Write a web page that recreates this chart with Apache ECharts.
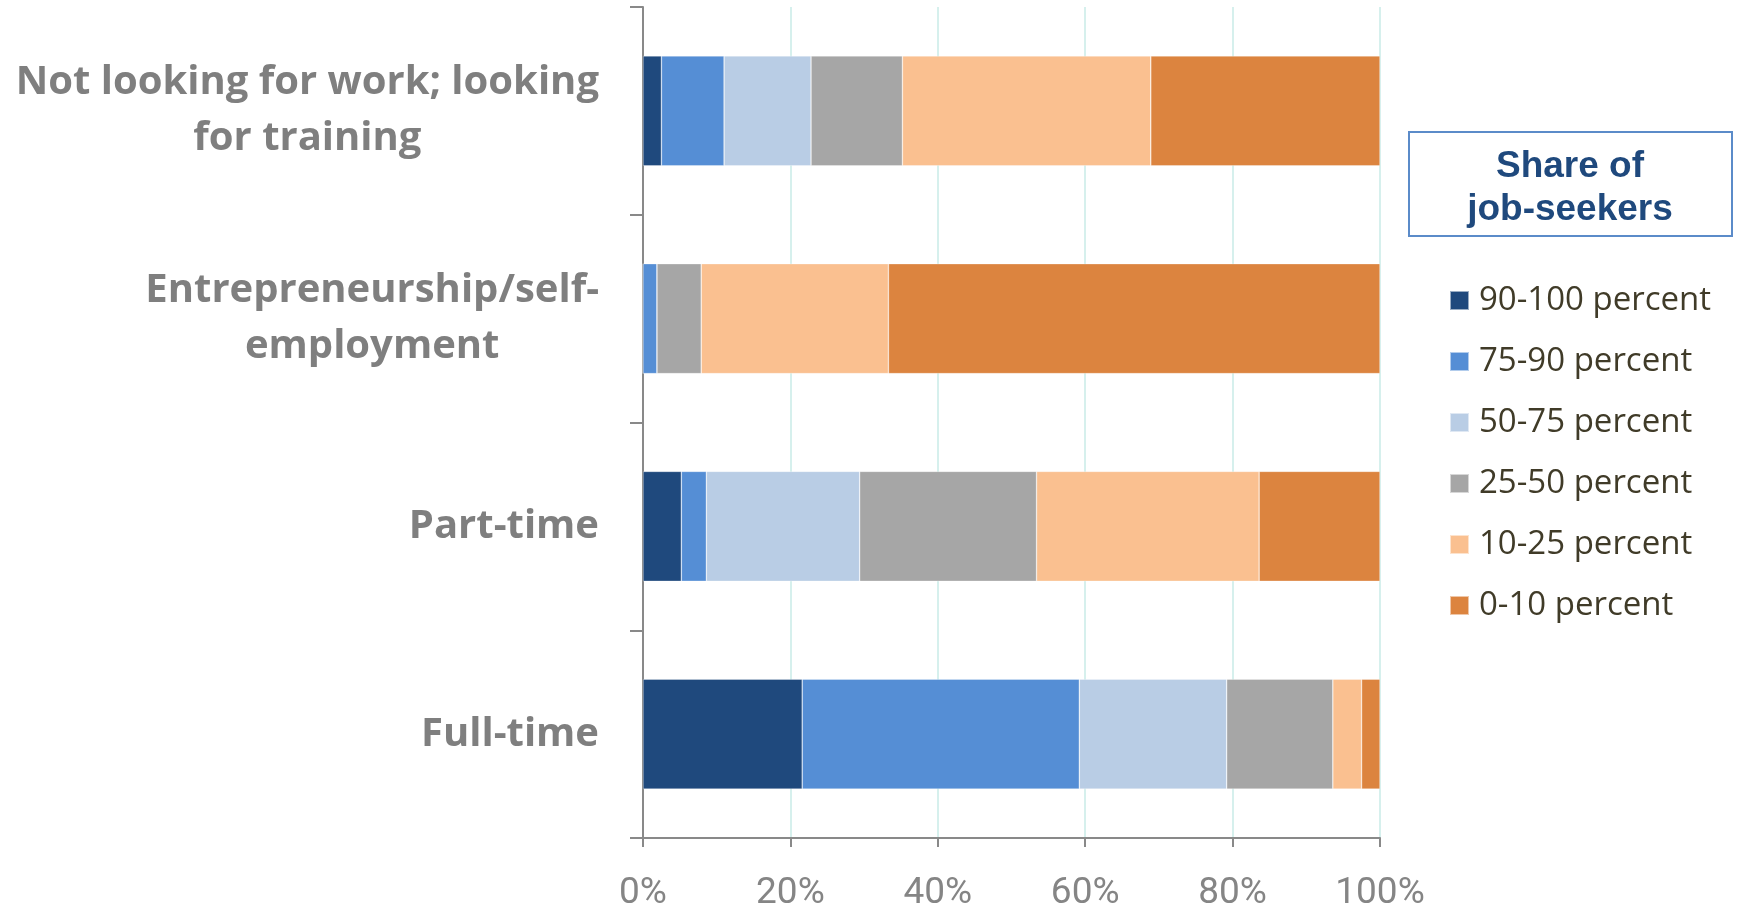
<!DOCTYPE html>
<html>
<head>
<meta charset="utf-8">
<script src="https://cdn.jsdelivr.net/npm/echarts@6/dist/echarts.min.js"></script>
<style>
  html, body { margin: 0; padding: 0; background: #ffffff; }
  #chart { width: 1745px; height: 903px; }
</style>
</head>
<body>
<div id="chart"></div>
<script>
// Preferred work arrangement, split by share of job-seekers (percent of each row)
const categories = [
  'Not looking for work; looking\nfor training',
  'Entrepreneurship/self-\nemployment',
  'Part-time',
  'Full-time'
];
const bandNames = ['90-100 percent', '75-90 percent', '50-75 percent', '25-50 percent', '10-25 percent', '0-10 percent'];
const share90to100 = [2.5, 0, 5.2, 21.6];
const share75to90  = [8.5, 1.9, 3.4, 37.6];
const share50to75  = [11.8, 0, 20.8, 20.0];
const share25to50  = [12.4, 6.0, 24.0, 14.4];
const share10to25  = [33.7, 25.4, 30.2, 3.9];
const share0to10   = [31.1, 66.7, 16.4, 2.5];
const xTicks = [0, 20, 40, 60, 80, 100];

const bandValues = [share90to100, share75to90, share50to75, share25to50, share10to25, share0to10];
const bandColors = ['#1f497d', '#558ed5', '#b9cde5', '#a6a6a6', '#fac090', '#dc843f'];

const chart = echarts.init(document.getElementById('chart'), null, { renderer: 'canvas' });

const labelStyle = {
  fontFamily: '"Open Sans", sans-serif',
  fontWeight: 'bold',
  fontSize: 40,
  lineHeight: 56,
  color: '#7f7f7f'
};

chart.setOption({
  animation: false,
  backgroundColor: '#ffffff',
  grid: {
    left: 643, right: 365, top: 7, bottom: 65,
    containLabel: false,
    outerBoundsMode: 'none'
  },
  xAxis: {
    type: 'value',
    min: xTicks[0],
    max: xTicks[xTicks.length - 1],
    interval: xTicks[1] - xTicks[0],
    axisLine: { show: true, lineStyle: { color: '#898989', width: 2 } },
    axisTick: { show: true, length: 9, lineStyle: { color: '#898989', width: 2 } },
    splitLine: { show: true, lineStyle: { color: '#c8ebe7', width: 1.5 } },
    axisLabel: {
      formatter: '{value}%',
      margin: 37,
      fontFamily: '"Liberation Sans Narrow", "Roboto", sans-serif',
      fontSize: 37,
      color: '#858585'
    }
  },
  yAxis: {
    type: 'category',
    inverse: true,
    data: categories,
    axisLine: { show: true, lineStyle: { color: '#898989', width: 2 } },
    axisTick: { show: true, length: 13, lineStyle: { color: '#898989', width: 2 } },
    splitLine: { show: false },
    axisLabel: {
      interval: 0,
      margin: 44,
      align: 'right',
      formatter: function (v) {
        return v.split('\n').map(function (line) { return '{c|' + line + '}'; }).join('\n');
      },
      rich: {
        c: Object.assign({ align: 'center' }, labelStyle)
      }
    }
  },
  legend: {
    orient: 'vertical',
    left: 1449,
    top: 284,
    padding: 0,
    icon: 'rect',
    itemWidth: 19,
    itemHeight: 19,
    itemGap: 28,
    selectedMode: false,
    data: bandNames,
    textStyle: {
      fontFamily: '"Open Sans", sans-serif',
      fontSize: 33,
      lineHeight: 33,
      color: '#403b28',
      padding: [0, 0, 0, 5]
    }
  },
  graphic: [
    {
      type: 'group',
      children: [
        {
          type: 'rect',
          shape: { x: 1409, y: 132, width: 323, height: 104 },
          style: { fill: '#ffffff', stroke: '#5b8bc9', lineWidth: 2 }
        },
        {
          type: 'text',
          style: {
            text: 'Share of\njob-seekers',
            x: 1570,
            y: 188,
            align: 'center',
            verticalAlign: 'middle',
            fontFamily: '"Liberation Sans", Arial, sans-serif',
            fontWeight: 'bold',
            fontSize: 37,
            lineHeight: 43,
            fill: '#1f497d'
          }
        }
      ]
    }
  ],
  series: bandNames.map(function (name, i) {
    return {
      name: name,
      type: 'bar',
      stack: 'share',
      barWidth: 110,
      data: bandValues[i],
      itemStyle: { color: bandColors[i], borderColor: 'rgba(255,255,255,0.55)', borderWidth: 0.6 },
      emphasis: { disabled: true }
    };
  })
});
</script>
</body>
</html>
